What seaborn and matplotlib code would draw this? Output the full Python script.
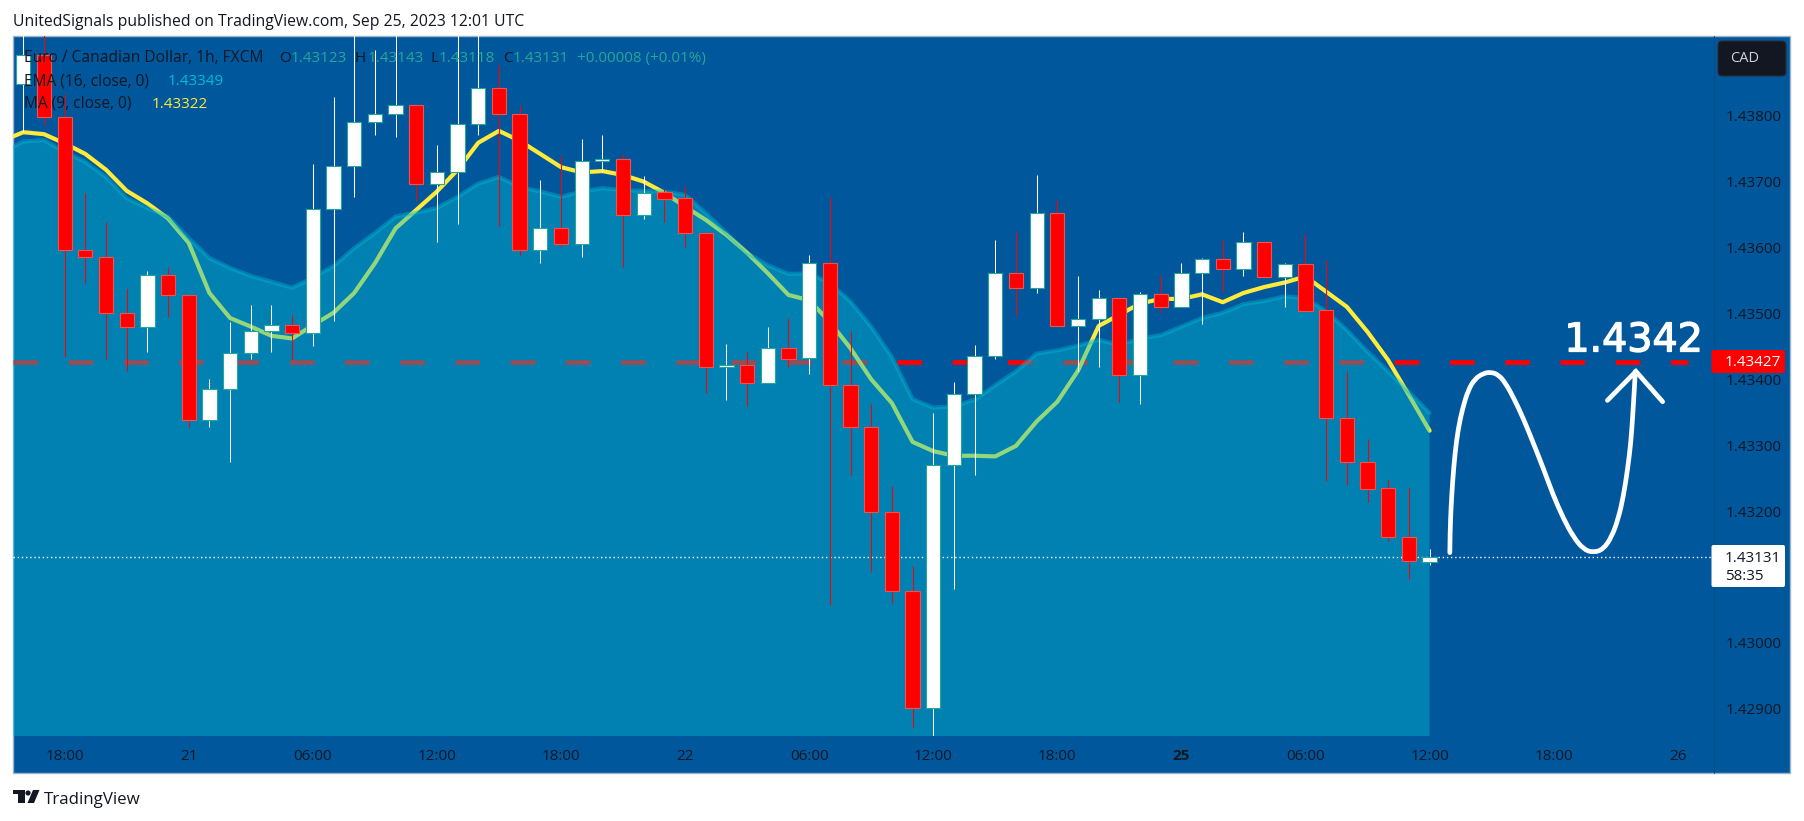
import numpy as np
import pandas as pd
import seaborn as sns
import matplotlib
matplotlib.use("Agg")
import matplotlib.pyplot as plt
import matplotlib.patheffects as pe
from matplotlib.path import Path
from matplotlib.patches import Rectangle, FancyBboxPatch, Polygon, Circle, PathPatch

# ---------- data ----------
OPEN = [1.43848,1.43892,1.43798,1.43596,1.43586,1.43501,1.43480,1.43559,1.43528,1.43339,1.43385,1.43440,1.43473,1.43482,1.43471,1.43658,1.43723,1.43790,1.43802,1.43817,1.43696,1.43714,1.43787,1.43842,1.43802,1.43596,1.43629,1.43605,1.43731,1.43734,1.43650,1.43684,1.43675,1.43622,1.43418,1.43421,1.43394,1.43447,1.43432,1.43576,1.43392,1.43327,1.43198,1.43078,1.42901,1.43270,1.43377,1.43436,1.43561,1.43538,1.43652,1.43481,1.43491,1.43523,1.43406,1.43529,1.43510,1.43562,1.43582,1.43567,1.43609,1.43555,1.43575,1.43505,1.43341,1.43274,1.43235,1.43161,1.43123]
CLOSE = [1.43892,1.43798,1.43596,1.43586,1.43501,1.43480,1.43559,1.43528,1.43339,1.43385,1.43440,1.43473,1.43482,1.43471,1.43658,1.43723,1.43790,1.43802,1.43817,1.43696,1.43714,1.43787,1.43842,1.43802,1.43596,1.43629,1.43605,1.43731,1.43734,1.43650,1.43683,1.43674,1.43622,1.43418,1.43421,1.43394,1.43447,1.43431,1.43576,1.43392,1.43327,1.43198,1.43078,1.42901,1.43270,1.43377,1.43436,1.43561,1.43538,1.43652,1.43481,1.43491,1.43523,1.43406,1.43529,1.43510,1.43562,1.43582,1.43567,1.43609,1.43555,1.43575,1.43504,1.43341,1.43274,1.43234,1.43161,1.43124,1.43131]
HIGH = [1.43930,1.43930,1.43833,1.43683,1.43639,1.43537,1.43565,1.43570,1.43528,1.43401,1.43487,1.43513,1.43513,1.43498,1.43727,1.43828,1.43930,1.43900,1.43930,1.43817,1.43755,1.43930,1.43930,1.43877,1.43816,1.43702,1.43739,1.43765,1.43771,1.43742,1.43709,1.43691,1.43693,1.43623,1.43454,1.43442,1.43479,1.43493,1.43589,1.43677,1.43473,1.43363,1.43238,1.43117,1.43349,1.43396,1.43452,1.43611,1.43624,1.43710,1.43672,1.43557,1.43536,1.43523,1.43533,1.43558,1.43577,1.43584,1.43611,1.43624,1.43610,1.43577,1.43621,1.43581,1.43413,1.43309,1.43249,1.43236,1.43143]
LOW = [1.43775,1.43786,1.43434,1.43546,1.43431,1.43412,1.43442,1.43495,1.43327,1.43328,1.43275,1.43431,1.43442,1.43431,1.43451,1.43489,1.43677,1.43771,1.43768,1.43671,1.43609,1.43636,1.43771,1.43633,1.43589,1.43577,1.43601,1.43586,1.43715,1.43571,1.43644,1.43638,1.43601,1.43379,1.43369,1.43360,1.43394,1.43419,1.43408,1.43058,1.43255,1.43108,1.43060,1.42871,1.42856,1.43082,1.43255,1.43431,1.43498,1.43531,1.43479,1.43413,1.43419,1.43366,1.43363,1.43501,1.43509,1.43484,1.43533,1.43557,1.43555,1.43510,1.43503,1.43246,1.43240,1.43214,1.43154,1.43097,1.43118]
MA9 = [1.43762,1.43775,1.43772,1.43758,1.43742,1.43718,1.43686,1.43667,1.43644,1.43607,1.43531,1.43493,1.43480,1.43466,1.43462,1.43482,1.43501,1.43531,1.43576,1.43629,1.43657,1.43685,1.43718,1.43759,1.43777,1.43762,1.43742,1.43722,1.43714,1.43716,1.43710,1.43700,1.43683,1.43662,1.43642,1.43619,1.43592,1.43561,1.43528,1.43520,1.43487,1.43447,1.43400,1.43364,1.43305,1.43291,1.43284,1.43284,1.43283,1.43299,1.43336,1.43366,1.43413,1.43481,1.43498,1.43515,1.43522,1.43522,1.43529,1.43517,1.43531,1.43540,1.43547,1.43556,1.43533,1.43510,1.43472,1.43429,1.43376,1.43322]
EMA16 = [1.43745,1.43761,1.43763,1.43745,1.43730,1.43707,1.43675,1.43660,1.43647,1.43614,1.43584,1.43569,1.43557,1.43548,1.43539,1.43554,1.43572,1.43599,1.43622,1.43647,1.43653,1.43660,1.43677,1.43697,1.43707,1.43692,1.43685,1.43677,1.43685,1.43690,1.43687,1.43686,1.43685,1.43680,1.43652,1.43622,1.43592,1.43573,1.43560,1.43561,1.43546,1.43518,1.43480,1.43434,1.43370,1.43357,1.43359,1.43369,1.43391,1.43412,1.43439,1.43444,1.43451,1.43460,1.43452,1.43462,1.43467,1.43480,1.43493,1.43501,1.43514,1.43519,1.43526,1.43523,1.43503,1.43475,1.43442,1.43412,1.43381,1.43349]
LINE_BARS = list(range(-1, 69))
TICK_BARS = [2,8,14,20,26,32,38,44,50,56,62,68,74,80]
TICK_LABELS = ["18:00","21","06:00","12:00","18:00","22","06:00","12:00","18:00","25","06:00","12:00","18:00","26"]
PRICE_TICKS = [1.429,1.430,1.432,1.433,1.434,1.435,1.436,1.437,1.438]
TARGET = 1.43427
LAST = 1.43131
PATH_BAR = [68.98,68.99,69.04,69.12,69.23,69.39,69.60,69.87,70.20,70.60,70.96,71.33,71.68,72.08,72.53,73.02,73.50,73.98,74.47,74.95,75.44,75.92,76.40,76.81,77.13,77.37,77.57,77.73,77.82,77.89,77.95]
PATH_PRICE = [1.43137,1.43166,1.43207,1.43247,1.43288,1.43326,1.43356,1.43384,1.43401,1.43409,1.43411,1.43407,1.43394,1.43371,1.43341,1.43303,1.43265,1.43224,1.43189,1.43161,1.43142,1.43137,1.43142,1.43161,1.43189,1.43222,1.43262,1.43303,1.43343,1.43379,1.43412]
HEAD_BAR = [76.60,77.98,79.27]
HEAD_PRICE = [1.43368,1.43412,1.43366]

# ---------- theme ----------
sns.set_theme(style="white")
plt.rcParams["font.family"] = ["Open Sans", "DejaVu Sans"]
W, H = 1804, 821
INK = "#131722"; BG = "#01579B"; CYAN = "#00BCD4"; YEL = "#FFEB3B"; TEAL = "#26A69A"
fig = plt.figure(figsize=(W/100, H/100), dpi=100, facecolor="white")

# chrome layer (pixel coordinates)
bg = fig.add_axes([0,0,1,1], zorder=0); bg.set_xlim(0,W); bg.set_ylim(H,0); bg.axis("off")
bg.add_patch(Rectangle((13.4,36),1777,737,fc=BG,ec="#9DB5CC",lw=1))
bg.plot([1713.5,1713.5],[36,773],color="#01508E",lw=0.8)

L,R,T,B = 13.4,1713.5,36,736
ax = fig.add_axes([L/W,1-B/H,(R-L)/W,(B-T)/H], zorder=1)
ax.patch.set_alpha(0)
for s in ax.spines.values(): s.set_visible(False)

o,h,l,c = map(np.array,(OPEN,HIGH,LOW,CLOSE))
bars = np.arange(len(o)); up = c>=o
frame = pd.DataFrame({"bar":LINE_BARS,"ma":MA9,"ema":EMA16})
xx = np.array(LINE_BARS,float)

ax.hlines(TARGET,-0.479,80.48,color="#FF0000",lw=3.4,linestyles=[(0,(5.2,6.5))],zorder=1)
sns.lineplot(data=frame,x="bar",y="ma",ax=ax,color=YEL,lw=3.0,zorder=2,errorbar=None)
ax.fill_between(xx,EMA16,1.42,color=CYAN,alpha=0.42,lw=0,zorder=3)
sns.lineplot(data=frame,x="bar",y="ema",ax=ax,color=CYAN,lw=3,alpha=0.4,zorder=3.1,errorbar=None)
ax.hlines(LAST,-0.479,81.73,color="white",lw=1,linestyles=[(0,(1,2))],zorder=3.5)

ax.vlines(bars[up],l[up],h[up],color="white",lw=0.75,zorder=4)
ax.vlines(bars[~up],l[~up],h[~up],color="#FF0000",lw=0.75,zorder=4)
ax.bar(bars[up],(c-o)[up],bottom=o[up],width=0.69,color="white",edgecolor=TEAL,lw=0.8,zorder=5)
ax.bar(bars[~up],(c-o)[~up],bottom=o[~up],width=0.69,color="#FF0000",edgecolor="#EF5350",lw=0.8,zorder=5)

# hand-drawn forecast stroke, rounded through the read points
pts = np.column_stack([PATH_BAR,PATH_PRICE])
verts=[pts[0]]; codes=[Path.MOVETO]
for i in range(1,len(pts)-1):
    verts+= [pts[i],(pts[i]+pts[i+1])/2]; codes+=[Path.CURVE3,Path.CURVE3]
verts.append(pts[-1]); codes.append(Path.LINETO)
ax.add_patch(PathPatch(Path(verts,codes),fc="none",ec="white",lw=3.4,capstyle="round",joinstyle="round",zorder=6))
ax.plot(HEAD_BAR,HEAD_PRICE,color="white",lw=3.4,solid_capstyle="round",solid_joinstyle="miter",zorder=6)
ax.text(77.87,1.43459,"1.4342",color="white",fontsize=28.5,family="DejaVu Sans",ha="center",va="center",zorder=7,
        path_effects=[pe.withStroke(linewidth=1.0,foreground="white")])

ax.set_xlim(-0.479,81.73)
ax.set_ylim(1.428587,1.439210)
ax.set_xlabel(""); ax.set_ylabel("")
ax.set_xticks(TICK_BARS); ax.set_xticklabels(TICK_LABELS)
ax.set_yticks(PRICE_TICKS); ax.set_yticklabels([f"{p:.5f}" for p in PRICE_TICKS])
ax.yaxis.tick_right()
ax.tick_params(axis="x",length=0,pad=9.5,labelsize=11,labelcolor=INK)
ax.tick_params(axis="y",length=0,pad=8.5,labelsize=11,labelcolor=INK)
for t,s in zip(ax.get_xticklabels(),TICK_LABELS):
    if s=="25": t.set_fontweight("bold")

# overlay
top = fig.add_axes([0,0,1,1], zorder=2); top.set_xlim(0,W); top.set_ylim(H,0); top.axis("off"); top.patch.set_alpha(0)
def tx(x,y,s,color=INK,size=11,ha="left",**k):
    top.text(x,y,s,color=color,fontsize=size,ha=ha,va="center",**k)
tx(13.4,21.7,"UnitedSignals published on TradingView.com, Sep 25, 2023 12:01 UTC",size=11.3)
tx(23.7,58.2,"Euro / Canadian Dollar, 1h, FXCM",size=11.2)
for x,s in [(278.8,"O"),(355,"H"),(430,"L"),(503,"C")]: tx(x,58.2,s)
for x,s in [(290.6,"1.43123"),(367.7,"1.43143"),(439,"1.43118"),(512.5,"1.43131"),(577,"+0.00008 (+0.01%)")]:
    tx(x,58.2,s,color=TEAL)
tx(23.7,81.5,"EMA (16, close, 0)",size=11.2); tx(168,81.5,"1.43349",color=CYAN)
tx(23.7,104,"MA (9, close, 0)",size=11.2); tx(152,104,"1.43322",color=YEL)

# CAD button
top.add_patch(FancyBboxPatch((1720,43),64,31,boxstyle="round,pad=2,rounding_size=4",fc=INK,ec="#2A2E39",lw=0.8))
tx(1730,59,"CAD",color="#D1D4DC",size=10.5)
# price tags
top.add_patch(FancyBboxPatch((1713.5,352),69.5,19,boxstyle="round,pad=2,rounding_size=2",fc="#FF0000",ec="none"))
top.add_patch(Rectangle((1713.5,350),4,23,fc="#FF0000",ec="none"))
tx(1725,362.5,"1.43427",color="white")
top.add_patch(FancyBboxPatch((1713.5,547),69.5,38,boxstyle="round,pad=2,rounding_size=2",fc="white",ec="none"))
top.add_patch(Rectangle((1713.5,545),4,42,fc="white",ec="none"))
tx(1725,558,"1.43131"); tx(1725,577,"58:35")

# TradingView wordmark
top.add_patch(Polygon([(13,790),(24.5,790),(24.5,803),(18,803),(18,794.5),(13,794.5)],fc=INK,ec="none"))
top.add_patch(Circle((28,793),2.6,fc=INK,ec="none"))
top.add_patch(Polygon([(33,790),(39.5,790),(34,803),(27.5,803)],fc=INK,ec="none"))
tx(44,799.5,"TradingView",size=12.2,fontweight="medium")

fig.savefig("out.png",dpi=100,facecolor="white")
